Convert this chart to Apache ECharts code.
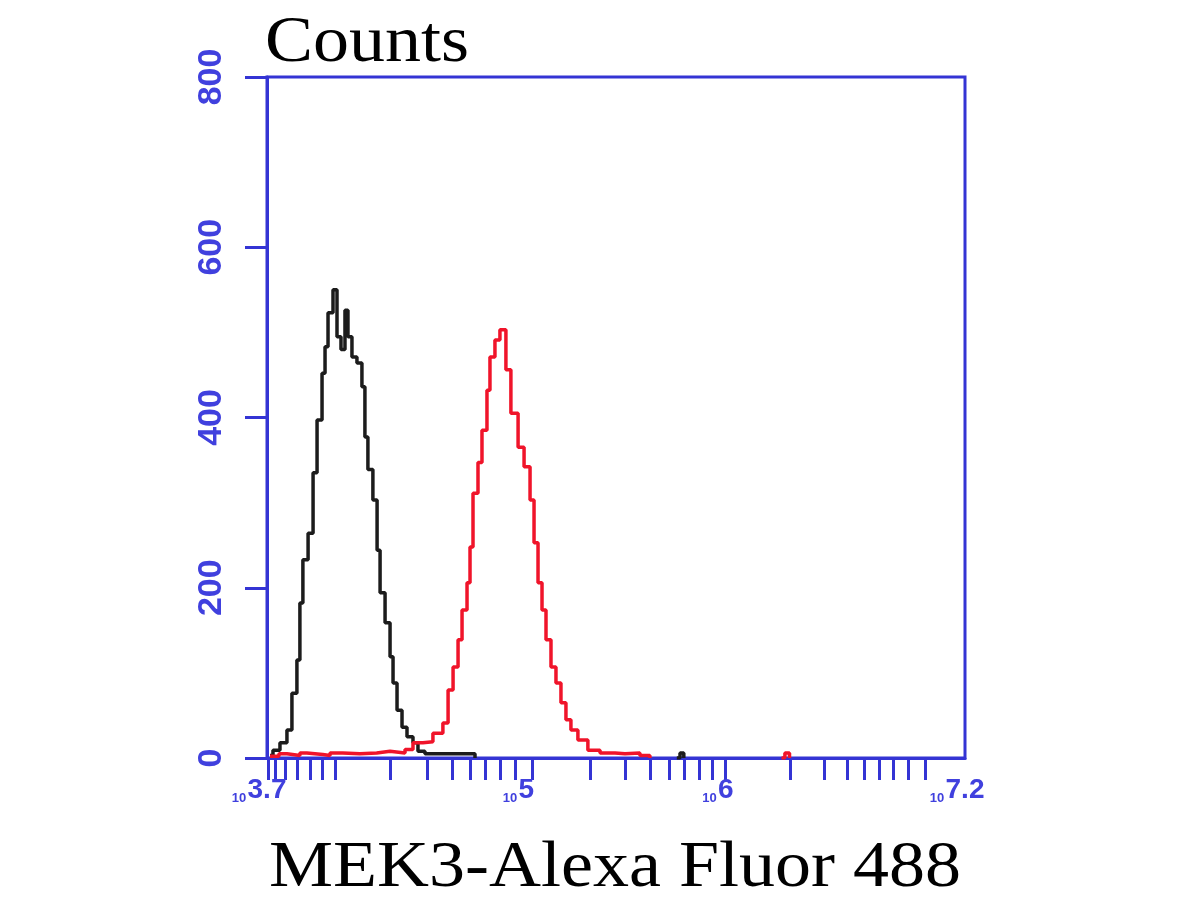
<!DOCTYPE html>
<html>
<head>
<meta charset="utf-8">
<script src="https://cdn.jsdelivr.net/npm/echarts@6/dist/echarts.min.js"></script>
<style>html,body{margin:0;padding:0;background:#fff;}#c{width:1200px;height:900px;}</style>
</head>
<body>
<div id="c"></div>
<script>
// ---- data (x in log10 fluorescence units, y in counts) ----
const blackLog = [3.715,3.730,3.765,3.800,3.825,3.850,3.865,3.880,3.906,3.931,3.951,3.976,3.991,4.006,4.031,4.051,4.071,4.091,4.106,4.126,4.151,4.176,4.191,4.206,4.231,4.252,4.267,4.292,4.317,4.332,4.352,4.377,4.402,4.432,4.457,4.492,4.718,4.743];
const blackCount = [3,9,18,33,76,115,182,233,264,335,397,452,483,523,550,495,480,526,495,471,464,436,377,339,303,244,194,159,119,88,56,36,25,18,8,5,5,0];
const blackBlipLog = [5.755,5.771,5.790];
const blackBlipCount = [0,6,0];

const redLog = [3.715,3.760,3.800,3.865,3.900,3.980,4.016,4.080,4.166,4.250,4.317,4.392,4.432,4.482,4.532,4.582,4.608,4.633,4.658,4.678,4.703,4.718,4.733,4.758,4.778,4.803,4.818,4.843,4.868,4.898,4.923,4.959,4.989,5.019,5.039,5.059,5.079,5.099,5.124,5.149,5.174,5.199,5.224,5.259,5.309,5.370,5.445,5.495,5.570,5.620];
const redCount = [2,5,3,6,4,3,6,5,6,8,6,10,18,19,29,41,80,107,139,174,206,248,311,347,385,432,471,491,503,456,405,365,342,303,253,206,174,139,107,88,65,45,33,21,9,6,5,6,3,0];
const redBlipLog = [6.280,6.297,6.320];
const redBlipCount = [0,6,0];

const xTickValues = [3.705,3.740,3.790,3.850,3.916,3.976,4.041,4.317,4.502,4.628,4.718,4.793,4.868,4.943,5.029,5.320,5.495,5.620,5.716,5.791,5.866,5.931,5.997,6.322,6.493,6.608,6.693,6.768,6.839,6.914,6.999];
const xLabelValues = [3.7, 5, 6, 7.2];
const yTickLabels = [0, 200, 400, 600, 800];
const yTitle = 'Counts';
const xTitle = 'MEK3-Alexa Fluor 488';

// ---- build ----
const zip = (a, b) => a.map((v, i) => [v, b[i]]);
const blackData = zip(blackLog, blackCount).concat([[null, null]], zip(blackBlipLog, blackBlipCount));
const redData = zip(redLog, redCount).concat([[null, null]], zip(redBlipLog, redBlipCount));

const BLUE = '#3434d4';
const LBLUE = '#4040de';
const chart = echarts.init(document.getElementById('c'));
chart.setOption({
  backgroundColor: '#fff',
  animation: false,
  grid: { left: 267, right: 235, top: 77, bottom: 142, show: true, borderColor: BLUE, borderWidth: 3, backgroundColor: 'transparent' },
  xAxis: {
    type: 'value', min: 3.7, max: 7.2,
    axisLine: { lineStyle: { color: BLUE, width: 3 } },
    axisTick: { customValues: xTickValues, length: 22, lineStyle: { color: BLUE, width: 3 } },
    splitLine: { show: false },
    axisLabel: {
      customValues: xLabelValues, margin: 18,
      formatter: v => '{s|10}{b|' + String(v) + '}{p|}',
      rich: {
        s: { fontSize: 13, fontWeight: 'bold', color: LBLUE, fontFamily: 'Liberation Sans', width: 17, verticalAlign: 'bottom', padding: [16, 0, 0, 0] },
        b: { fontSize: 28, fontWeight: 'bold', color: LBLUE, fontFamily: 'Liberation Sans' },
        p: { width: 17 }
      }
    }
  },
  yAxis: {
    type: 'value', min: 0, max: 800, interval: 200,
    axisLine: { show: true, lineStyle: { color: BLUE, width: 3 } },
    axisTick: { show: true, length: 22, lineStyle: { color: BLUE, width: 3 } },
    splitLine: { show: false },
    axisLabel: {
      rotate: 90, margin: 38, fontSize: 34, fontWeight: 'bold', color: LBLUE, fontFamily: 'Liberation Sans',
      formatter: v => yTickLabels.includes(v) ? String(v) : ''
    }
  },
  series: [
    { type: 'line', data: blackData, step: 'end', showSymbol: false, connectNulls: false,
      lineStyle: { color: '#1c1c1c', width: 3.5 }, z: 3 },
    { type: 'line', data: redData, step: 'end', showSymbol: false, connectNulls: false,
      lineStyle: { color: '#f0142a', width: 3.5 }, z: 4 }
  ],
  graphic: [
    { type: 'text', x: 265, y: 12, scaleY: 0.9, style: { text: yTitle, fontSize: 72, fontFamily: 'Liberation Serif', fill: '#000', verticalAlign: 'top' } },
    { type: 'text', x: 269, y: 837, scaleY: 0.9, style: { text: xTitle, fontSize: 72, fontFamily: 'Liberation Serif', fill: '#000', verticalAlign: 'top' } }
  ]
});
</script>
</body>
</html>
